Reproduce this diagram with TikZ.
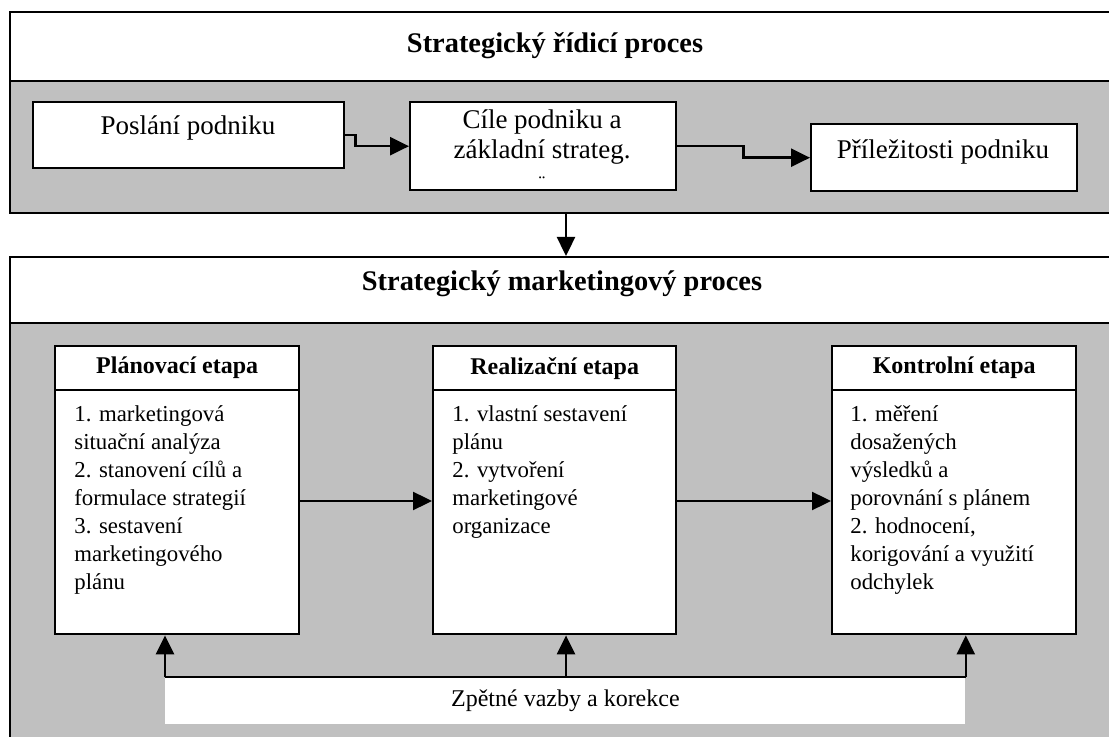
\documentclass[tikz,border=0pt]{standalone}
\usepackage{fontspec}
\setmainfont{Liberation Serif}
\usetikzlibrary{arrows.meta}
\definecolor{panelgray}{RGB}{192,192,192}
\begin{document}
\begin{tikzpicture}[x=0.5pt,y=-0.5pt,
  box/.style={draw, line width=1.2pt, fill=white, inner sep=0pt, anchor=north west},
  graybox/.style={box, fill=panelgray},
  arr/.style={line width=1.2pt, -{Triangle[length=9.5pt,width=9pt]}},
  plain/.style={line width=1.2pt},
  titletxt/.style={font=\fontsize{14.2}{17}\selectfont\bfseries, inner sep=0pt},
  toptxt/.style={font=\fontsize{13.5}{15}\selectfont, align=center, inner sep=0pt},
  headtxt/.style={font=\fontsize{12}{14}\selectfont\bfseries},
  bodytxt/.style={font=\fontsize{11.4}{14}\selectfont, align=left, anchor=north west, inner sep=0pt},
  fbtxt/.style={font=\fontsize{12}{14}\selectfont}]
\clip (0,0) rectangle (1109,737);
\fill[white] (0,0) rectangle (1109,737);

% ---------- strategic management process ----------
\node[box, minimum width=558pt, minimum height=34.5pt] (topband) at (9,11) {};
\node[graybox, minimum width=558pt, minimum height=66pt] (topgray) at (9,80) {};
\node[titletxt] (toptitle) at (555,46) {Strategický řídicí proces};

\node[box, minimum width=155.5pt, minimum height=33pt] (posl) at (32,101) {};
\node[toptxt] (poslT) at (188,128) {Poslání podniku};

\node[box, minimum width=133pt, minimum height=44pt] (cile) at (409,101) {};
\node[toptxt] (cileT) at (542,137) {Cíle podniku a\\základní strateg.};
\node[font=\fontsize{10}{10}\selectfont, inner sep=0pt] (cileD) at (542,183) {¨};

\node[box, minimum width=133pt, minimum height=33.5pt] (prl) at (810,123) {};
\node[toptxt] (prlT) at (943,152) {Příležitosti podniku};

\draw[arr] (posl.east) -- ++(10,0) |- (cile.west);
\draw[arr] (cile.east) -- ++(66,0) |- (prl.west);

% ---------- strategic marketing process ----------
\node[box, minimum width=558pt, minimum height=33pt] (mktband) at (9,256) {};
\node[graybox, minimum width=558pt, minimum height=225pt] (mktgray) at (9,322) {};
\node[titletxt] (mkttitle) at (562,284) {Strategický marketingový proces};

\coordinate (dx) at (566,0);
\draw[arr] (topgray.south -| dx) -- (mktband.north -| dx);

% stage boxes
\node[box, minimum width=122pt, minimum height=22pt, headtxt] (planH) at (54,345) {Plánovací etapa};
\node[box, minimum width=122pt, minimum height=122pt] (planB) at (54,389) {};
\node[bodytxt] (planT) at (74,405) {1. marketingová\\situační analýza\\2. stanovení cílů a\\formulace strategií\\3. sestavení\\marketingového\\plánu};

\node[box, minimum width=121.5pt, minimum height=22pt, headtxt] (realH) at (432,345) {Realizační etapa};
\node[box, minimum width=121.5pt, minimum height=122pt] (realB) at (432,389) {};
\node[bodytxt] (realT) at (452,405) {1. vlastní sestavení\\plánu\\2. vytvoření\\marketingové\\organizace};

\node[box, minimum width=122pt, minimum height=22pt, headtxt] (kontH) at (831,345) {Kontrolní etapa};
\node[box, minimum width=122pt, minimum height=122pt] (kontB) at (831,389) {};
\node[bodytxt] (kontT) at (850,405) {1. měření\\dosažených\\výsledků a\\porovnání s plánem\\2. hodnocení,\\korigování a využití\\odchylek};

\coordinate (ay) at (0,501);
\draw[arr] (planB.east |- ay) -- (realB.west |- ay);
\draw[arr] (realB.east |- ay) -- (kontB.west |- ay);

% feedback
\node[fill=white, inner sep=0pt, anchor=north west, minimum width=400pt, minimum height=23.5pt, fbtxt] (fb) at (165,677) {Zpětné vazby a korekce};
\draw[plain] (fb.north west) -- (fb.north east);
\draw[arr] (fb.north west) -- (planB.south -| fb.north west);
\draw[arr] (fb.north -| dx) -- (realB.south -| dx);
\draw[arr] (fb.north east) -- (kontB.south -| fb.north east);
\end{tikzpicture}
\end{document}
